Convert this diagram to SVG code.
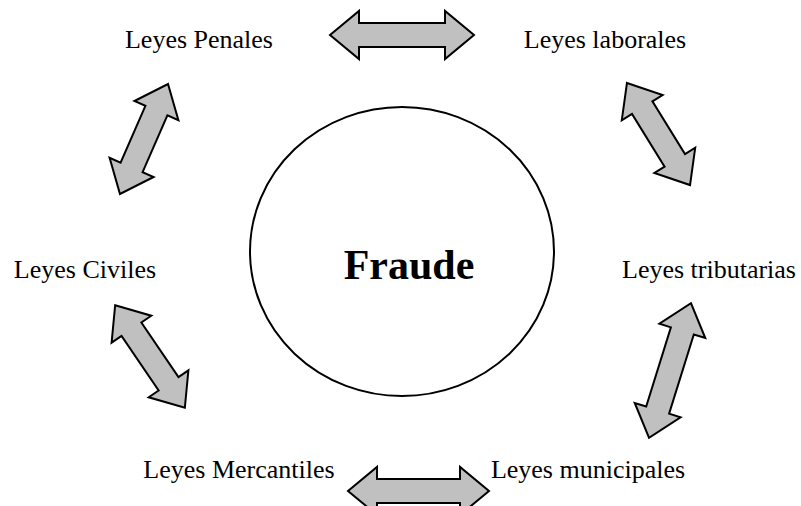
<svg xmlns="http://www.w3.org/2000/svg" width="801" height="506" viewBox="0 0 801 506">
  <style>
    .lbl { font-family: "Liberation Serif", "Times New Roman", serif; font-size: 26px; fill: #000; text-anchor: middle; }
    .title { font-family: "Liberation Serif", "Times New Roman", serif; font-size: 42px; font-weight: bold; fill: #000; text-anchor: middle; }
    .arrow { fill: #c0c0c0; stroke: #000; stroke-width: 2; stroke-linejoin: miter; }
  </style>
  <defs>
    <!-- double-headed block arrows, centred on the origin, pointing along x -->
    <polygon id="arr120" points="-60,0 -31,-24 -31,-12 31,-12 31,-24 60,0 31,24 31,12 -31,12 -31,24"/>
    <polygon id="arr124" points="-62,0 -33,-24 -33,-12 33,-12 33,-24 62,0 33,24 33,12 -33,12 -33,24"/>
    <polygon id="arr141" points="-70.5,0 -41.5,-24 -41.5,-12 41.5,-12 41.5,-24 70.5,0 41.5,24 41.5,12 -41.5,12 -41.5,24"/>
    <polygon id="arr144" points="-72,0 -43,-24 -43,-12 43,-12 43,-24 72,0 43,24 43,12 -43,12 -43,24"/>
  </defs>
  <rect width="801" height="506" fill="#fff"/>

  <g id="fraude">
    <ellipse cx="402" cy="251.5" rx="152" ry="144.5" fill="#fff" stroke="#000" stroke-width="2"/>
    <text class="title" x="409" y="279">Fraude</text>
  </g>

  <g id="penales"><text class="lbl" x="199" y="48">Leyes Penales</text></g>
  <g id="laborales"><text class="lbl" x="605" y="48">Leyes laborales</text></g>
  <g id="civiles"><text class="lbl" x="85" y="278">Leyes Civiles</text></g>
  <g id="tributarias"><text class="lbl" x="709" y="278">Leyes tributarias</text></g>
  <g id="mercantiles"><text class="lbl" x="239" y="478">Leyes Mercantiles</text></g>
  <g id="municipales"><text class="lbl" x="588" y="478">Leyes municipales</text></g>

  <g id="connectors" class="arrow">
    <use href="#arr144" transform="translate(402,35)"/>
    <use href="#arr120" transform="translate(144,139) rotate(113.6)"/>
    <use href="#arr120" transform="translate(658.5,134) rotate(58.3)"/>
    <use href="#arr124" transform="translate(150,356.5) rotate(55.8)"/>
    <use href="#arr141" transform="translate(670,370.5) rotate(107.3)"/>
    <use href="#arr141" transform="translate(418.5,491)"/>
  </g>
</svg>
